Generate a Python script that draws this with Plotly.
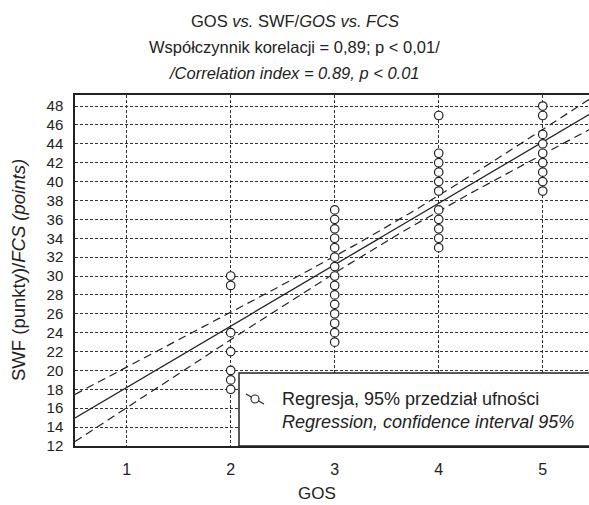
import numpy as np
import plotly.graph_objects as go

# ---- data ----
gos_2 = [30, 29, 24, 22, 20, 19, 18]
gos_3 = [37, 36, 35, 34, 33, 32, 31, 30, 29, 28, 27, 26, 25, 24, 23]
gos_4 = [47, 43, 42, 41, 40, 39, 37, 36, 35, 34, 33]
gos_5 = [48, 47, 45, 44, 43, 42, 41, 40, 39]
gos_levels = [2, 3, 4, 5]
x_ticks = [1, 2, 3, 4, 5]
y_ticks = list(range(12, 49, 2))

# regression line and 95% band
reg_intercept = 11.7
reg_slope = 6.5
ci_center = 3.6
ci_min_half = 0.75
ci_curv = 0.592

FONT = "Liberation Sans Narrow, Arial Narrow, Liberation Sans, Arial, sans-serif"
W, H = 589, 505
L, R, T, B = 75, 0, 95, 59
X_RANGE = [0.503, 5.445]
Y_RANGE = [12, 49.17]

xs, ys = [], []
for g, vals in zip(gos_levels, [gos_2, gos_3, gos_4, gos_5]):
    xs += [g] * len(vals)
    ys += vals

xl = np.linspace(X_RANGE[0], X_RANGE[1], 200)
yl = reg_intercept + reg_slope * xl
hw = np.sqrt(ci_min_half ** 2 + ci_curv * (xl - ci_center) ** 2)

fig = go.Figure()
fig.add_trace(go.Scatter(x=xl, y=yl + hw, mode="lines",
                         line=dict(color="#222", width=1.2, dash="8px,5px"),
                         showlegend=False, hoverinfo="skip"))
fig.add_trace(go.Scatter(x=xl, y=yl - hw, mode="lines",
                         line=dict(color="#222", width=1.2, dash="8px,5px"),
                         showlegend=False, hoverinfo="skip"))
fig.add_trace(go.Scatter(x=xl, y=yl, mode="lines",
                         line=dict(color="#222", width=1.3),
                         showlegend=False, hoverinfo="skip"))
fig.add_trace(go.Scatter(x=xs, y=ys, mode="markers",
                         marker=dict(symbol="circle", size=8.5, color="white",
                                     line=dict(color="#222", width=1.2)),
                         showlegend=False, cliponaxis=False))

pw = W - L - R
ph = H - T - B


def px_x(p):
    return (p - L) / pw


def px_y(p):
    return (H - B - p) / ph


ann = []
title_lines = [
    ("GOS <i>vs.</i> SWF/<i>GOS vs. FCS</i>", 21),
    ("Współczynnik korelacji = 0,89; p &lt; 0,01/", 47),
    ("<i>/Correlation index = 0.89, p &lt; 0.01</i>", 73),
]
for txt, yc in title_lines:
    ann.append(dict(text=txt, x=px_x(294.5), y=px_y(yc), xref="paper", yref="paper",
                    xanchor="center", yanchor="middle", showarrow=False,
                    font=dict(family=FONT, size=16.5, color="#222")))
ann.append(dict(text="SWF (punkty)/<i>FCS (points)</i>", x=px_x(18), y=px_y(270),
                xref="paper", yref="paper", textangle=-90, xanchor="center",
                yanchor="middle", showarrow=False,
                font=dict(family=FONT, size=18.5, color="#222")))
ann.append(dict(text="GOS", x=px_x(317), y=px_y(493), xref="paper", yref="paper",
                xanchor="center", yanchor="middle", showarrow=False,
                font=dict(family=FONT, size=17, color="#222")))
ann.append(dict(text="Regresja, 95% przedział ufności", x=px_x(280), y=px_y(399),
                xref="paper", yref="paper", xanchor="left", yanchor="middle",
                showarrow=False, font=dict(family=FONT, size=18, color="#222")))
ann.append(dict(text="<i>Regression, confidence interval 95%</i>", x=px_x(280),
                y=px_y(422), xref="paper", yref="paper", xanchor="left",
                yanchor="middle", showarrow=False,
                font=dict(family=FONT, size=18, color="#222")))

shapes = [
    dict(type="rect", xref="paper", yref="paper", x0=px_x(239), x1=px_x(600),
         y0=px_y(446), y1=px_y(373), fillcolor="white",
         line=dict(color="#222", width=1.5), layer="above"),
    dict(type="line", xref="paper", yref="paper", x0=px_x(246), y0=px_y(394),
         x1=px_x(264), y1=px_y(404), line=dict(color="#222", width=1.1),
         layer="above"),
    dict(type="circle", xref="paper", yref="paper", xsizemode="pixel",
         ysizemode="pixel", xanchor=px_x(255), yanchor=px_y(399),
         x0=-4, x1=4, y0=-4, y1=4, fillcolor="white",
         line=dict(color="#222", width=1.1), layer="above"),
]

fig.update_layout(
    width=W, height=H,
    margin=dict(l=L, r=R, t=T, b=B, pad=0),
    paper_bgcolor="white", plot_bgcolor="white",
    annotations=ann, shapes=shapes,
    font=dict(family=FONT, size=16, color="#222"),
)
fig.update_xaxes(range=X_RANGE, tickvals=x_ticks, ticktext=[str(v) for v in x_ticks],
                 showgrid=True, gridcolor="#333", gridwidth=1, griddash="3px,2px",
                 showline=True, linecolor="#222", linewidth=1.5, mirror=True,
                 ticks="", ticklabelstandoff=8, zeroline=False,
                 tickfont=dict(family=FONT, size=16, color="#222"))
fig.update_yaxes(range=Y_RANGE, tickvals=y_ticks, ticktext=[str(v) for v in y_ticks],
                 showgrid=True, gridcolor="#333", gridwidth=1, griddash="3px,2px",
                 showline=True, linecolor="#222", linewidth=1.5, mirror=False,
                 ticks="", ticklabelstandoff=7, zeroline=False,
                 tickfont=dict(family=FONT, size=15, color="#222"))

fig.write_html("out.html",
               config={"displayModeBar": False},
               post_script="document.body.style.margin='0px';"
                           "document.body.style.overflow='hidden';")
